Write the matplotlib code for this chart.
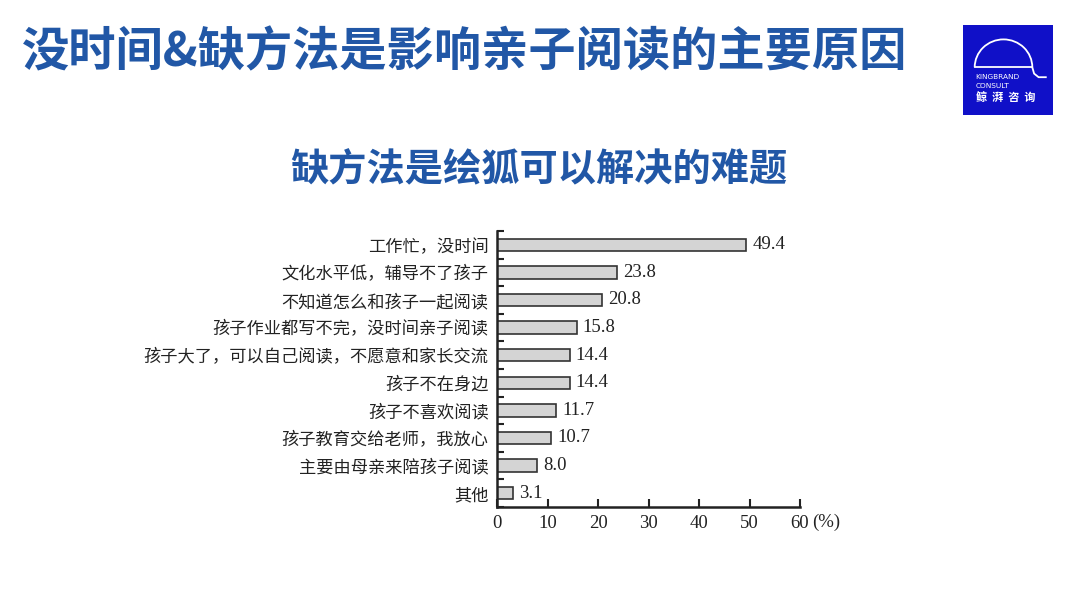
import numpy as np
from matplotlib import pyplot as plt
from matplotlib.patches import Arc

plt.rcParams['font.family'] = ['Noto Sans CJK SC', 'DejaVu Sans']

categories = ["工作忙，没时间", "文化水平低，辅导不了孩子", "不知道怎么和孩子一起阅读",
              "孩子作业都写不完，没时间亲子阅读", "孩子大了，可以自己阅读，不愿意和家长交流",
              "孩子不在身边", "孩子不喜欢阅读", "孩子教育交给老师，我放心",
              "主要由母亲来陪孩子阅读", "其他"]
values = [49.4, 23.8, 20.8, 15.8, 14.4, 14.4, 11.7, 10.7, 8.0, 3.1]
x_ticks = [0, 10, 20, 30, 40, 50, 60]

title = "没时间&缺方法是影响亲子阅读的主要原因"
subtitle = "缺方法是绘狐可以解决的难题"
blue = "#2157a6"

fig = plt.figure(figsize=(10.8, 6.08), dpi=100)
fig.text(22 / 1080, 1 - 52 / 608, title, fontsize=34, fontweight='black', color=blue,
         va='center', ha='left')
fig.text(539 / 1080, 1 - 170 / 608, subtitle, fontsize=27.5, fontweight='black', color=blue,
         va='center', ha='center')

# bar chart
ax = fig.add_axes([497 / 1080, 1 - 507 / 608, 303 / 1080, 276 / 608])
y = np.arange(len(categories))
ax.barh(y, values, height=0.45, color="#d4d4d4", edgecolor="#333333", linewidth=1.2)
for yi, v in zip(y, values):
    ax.text(v + 1.2, yi, f"{v:.1f}", va='center', ha='left', fontsize=13.5,
            family=['Liberation Serif', 'Noto Sans CJK SC'], color="#222222")
ax.set_ylim(len(categories) - 0.5, -0.5)
ax.set_xlim(0, 60)
ax.set_yticks(y)
ax.set_yticklabels(categories, fontsize=12.4, color="#222222")
ax.set_yticks(np.arange(-0.5, len(categories)), minor=True)
ax.tick_params(axis='y', which='major', length=0, pad=6)
ax.tick_params(axis='y', which='minor', direction='in', length=5, width=1.5, color="#222222")
ax.set_xticks(x_ticks)
ax.set_xticklabels([str(t) for t in x_ticks], fontsize=13.5,
                   family=['Liberation Serif', 'Noto Sans CJK SC'], color="#222222")
ax.tick_params(axis='x', direction='in', length=6, width=1.5, color="#222222", pad=6)
for s in ['top', 'right']:
    ax.spines[s].set_visible(False)
for s in ['left', 'bottom']:
    ax.spines[s].set_linewidth(1.8)
    ax.spines[s].set_color("#222222")
ax.text(1.04, -0.024, "(%)", transform=ax.transAxes, fontsize=13.5, va='top', ha='left',
        family=['Liberation Serif', 'Noto Sans CJK SC'], color="#222222")

# logo
lx = fig.add_axes([963 / 1080, 1 - 115 / 608, 90 / 1080, 90 / 608])
lx.set_xlim(0, 1)
lx.set_ylim(0, 1)
lx.set_facecolor("#1010c8")
lx.set_xticks([])
lx.set_yticks([])
for s in lx.spines.values():
    s.set_visible(False)
lx.add_patch(Arc((0.45, 0.53), 0.64, 0.62, theta1=0, theta2=180, color='white', lw=1.3))
lx.plot([0.13, 0.77], [0.53, 0.53], color='white', lw=1.3)
lx.plot([0.77, 0.79, 0.84, 0.92], [0.53, 0.46, 0.42, 0.42], color='white', lw=1.3)
lx.text(0.14, 0.42, "KINGBRAND", color='white', fontsize=5.3, va='center', ha='left',
        family=['DejaVu Sans'])
lx.text(0.14, 0.32, "CONSULT", color='white', fontsize=5.3, va='center', ha='left',
        family=['DejaVu Sans'])
lx.text(0.14, 0.19, "鲸  湃  咨  询", color='white', fontsize=8, fontweight='bold',
        va='center', ha='left')

plt.savefig("out.png", dpi=100)
